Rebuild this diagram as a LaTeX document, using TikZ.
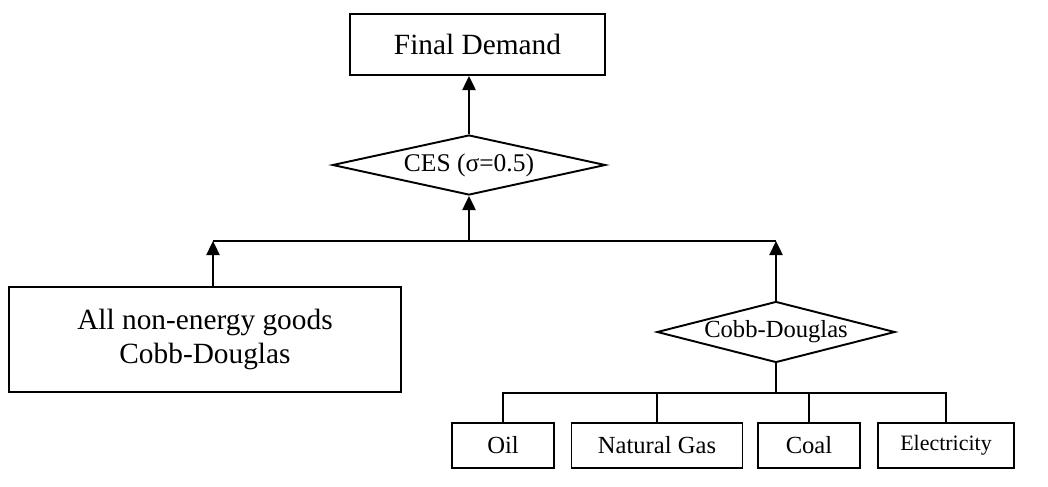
\documentclass[tikz,border=0pt]{standalone}
\usepackage{fontspec}
\setmainfont{Liberation Serif}
\usetikzlibrary{shapes.geometric,arrows.meta}
\tikzset{
  box/.style={draw,line width=1.1pt,inner sep=0pt,align=center},
  choice/.style={draw,diamond,line width=1.1pt,inner sep=0pt},
  link/.style={line width=1.1pt},
  up/.style={line width=1.1pt,-{Triangle[length=8pt,width=7.5pt]}}
}
\def\bigText{\fontsize{16.7}{19.3}\selectfont}
\def\cesText{\fontsize{14.5}{17}\selectfont}
\def\midText{\fontsize{14}{17}\selectfont}
\def\smallText{\fontsize{12.5}{15}\selectfont}
\def\barTop{-4.82}
\def\barLow{-7.86}

\begin{document}
\begin{tikzpicture}
\useasboundingbox (0,0) rectangle (20.96,-9.72);
\node [box,minimum width=5.1cm,minimum height=1.22cm,font=\bigText] (demand) at (9.55,-0.89) {Final Demand};
\node [choice,aspect=4.55,minimum width=5.46cm,minimum height=1.2cm,font=\cesText] (ces) at (9.38,-3.3) {CES (σ=0.5)};
\node [box,minimum width=7.84cm,minimum height=2.1cm,font=\bigText] (goods) at (4.1,-6.79) {All non-energy goods\\Cobb-Douglas};
\node [choice,aspect=3.9,minimum width=4.76cm,minimum height=1.22cm,font=\midText] (cobb) at (15.52,-6.64) {Cobb-Douglas};
\node [box,minimum width=2.04cm,minimum height=0.9cm,font=\midText] (oil) at (10.06,-8.91) {Oil};
\node [box,minimum width=3.42cm,minimum height=0.9cm,font=\midText] (gas) at (13.14,-8.91) {Natural Gas};
\node [box,minimum width=2.04cm,minimum height=0.9cm,font=\midText] (coal) at (16.18,-8.91) {Coal};
\node [box,minimum width=2.72cm,minimum height=0.9cm,font=\smallText] (elec) at (18.92,-8.91) {Electricity};
\coordinate (jLeft) at (4.26,\barTop);
\coordinate (jMid) at (ces.south |- jLeft);
\coordinate (jRight) at (cobb.north |- jLeft);
\coordinate (jLow) at (cobb.south |- 0,\barLow);
\draw [up] (ces.north) -- (ces.north |- demand.south);
\draw [up] (jMid) -- (ces.south);
\draw [link] (jLeft) -- (jRight);
\draw [up] (goods.north -| jLeft) -- (jLeft);
\draw [up] (cobb.north) -- (jRight);
\draw [link] (cobb.south) -- (jLow);
\draw [link] (oil.north) |- (jLow) -| (elec.north);
\foreach \n in {gas,coal}
{
	\draw [link] (\n.north) -- (\n.north |- jLow);
}
\end{tikzpicture}
\end{document}
